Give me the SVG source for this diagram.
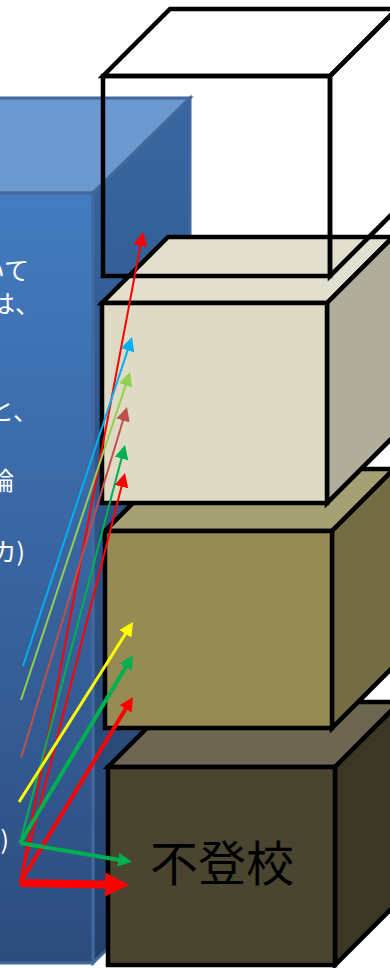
<svg xmlns="http://www.w3.org/2000/svg" width="390" height="968" viewBox="0 0 390 968">
<defs>
<linearGradient id="gFront" x1="0" y1="193" x2="0" y2="963" gradientUnits="userSpaceOnUse">
<stop offset="0" stop-color="#437cc0"/><stop offset="1" stop-color="#2d4c7e"/>
</linearGradient>
<linearGradient id="gRight" x1="0" y1="98" x2="0" y2="963" gradientUnits="userSpaceOnUse">
<stop offset="0" stop-color="#3867a2"/><stop offset="1" stop-color="#24416b"/>
</linearGradient>
<marker id="mRed" markerUnits="userSpaceOnUse" viewBox="0 0 14 14" markerWidth="14" markerHeight="14" refX="6" refY="7" orient="auto"><path d="M0,0 L14,7 L0,14 z" fill="#ff0000"/></marker>
<marker id="mCyan" markerUnits="userSpaceOnUse" viewBox="0 0 14 14" markerWidth="14" markerHeight="14" refX="6" refY="7" orient="auto"><path d="M0,0 L14,7 L0,14 z" fill="#00b0f0"/></marker>
<marker id="mLime" markerUnits="userSpaceOnUse" viewBox="0 0 14 14" markerWidth="14" markerHeight="14" refX="6" refY="7" orient="auto"><path d="M0,0 L14,7 L0,14 z" fill="#92d050"/></marker>
<marker id="mBrown" markerUnits="userSpaceOnUse" viewBox="0 0 14 14" markerWidth="14" markerHeight="14" refX="6" refY="7" orient="auto"><path d="M0,0 L14,7 L0,14 z" fill="#c0504d"/></marker>
<marker id="mGreen" markerUnits="userSpaceOnUse" viewBox="0 0 14 14" markerWidth="14" markerHeight="14" refX="6" refY="7" orient="auto"><path d="M0,0 L14,7 L0,14 z" fill="#00b050"/></marker>
<marker id="mYellow" markerUnits="userSpaceOnUse" viewBox="0 0 14 14" markerWidth="14" markerHeight="14" refX="6" refY="7" orient="auto"><path d="M0,0 L14,7 L0,14 z" fill="#ffff00"/></marker>
<marker id="mRedBig" markerUnits="userSpaceOnUse" viewBox="0 0 24 24" markerWidth="24" markerHeight="24" refX="10" refY="12" orient="auto"><path d="M0,0 L24,12 L0,24 z" fill="#ff0000"/></marker>
</defs>
<style>
.cube{stroke:#000;stroke-width:4.5;stroke-linejoin:miter}
.bedge{stroke:#41699e;stroke-width:3;stroke-linejoin:miter}
.btxt{font-family:"Noto Sans CJK JP","Noto Sans",sans-serif;font-size:25px;fill:#ffffff;text-anchor:end}
.lbl{font-family:"Noto Sans CJK JP","Noto Sans",sans-serif;font-size:48px;fill:#000;text-anchor:middle}
.ln{fill:none;stroke-linecap:butt}
</style>

<g id="blue-box">
<polygon class="bedge" points="-10,98 190,98 93,193 -10,193" fill="#6b98cf"/>
<polygon class="bedge" points="93,193 190,98 190,868 93,963" fill="url(#gRight)"/>
<rect class="bedge" x="-10" y="193" width="103" height="770" fill="url(#gFront)"/>
<text class="btxt" x="29" y="280">いて</text>
<text class="btxt" x="40" y="313">は、</text>
<text class="btxt" x="38" y="420">と、</text>
<text class="btxt" x="14" y="490">論</text>
<text class="btxt" x="25" y="561">カ)</text>
<text class="btxt" x="9" y="849">)</text>
</g>

<g id="cube-dark">
<polygon class="cube" points="108,767 173,702 400,702 335,767" fill="#6d6651"/>
<polygon class="cube" points="335,767 400,702 400,900 335,965" fill="#3b3625"/>
<rect class="cube" x="108" y="767" width="227" height="198" fill="#4a4530"/>
<text class="lbl" x="222" y="881">不登校</text>
</g>

<g id="cube-olive">
<polygon class="cube" points="105,531 167,469 394,469 332,531" fill="#a6a075"/>
<polygon class="cube" points="332,531 394,469 394,666 332,728" fill="#736c44"/>
<rect class="cube" x="105" y="531" width="227" height="197" fill="#958b53"/>
</g>

<g id="cube-beige">
<polygon class="cube" points="102,303 168,237 393,237 327,303" fill="#e2dfcf"/>
<polygon class="cube" points="327,303 393,237 393,437 327,503" fill="#b0ad9a"/>
<rect class="cube" x="102" y="303" width="225" height="200" fill="#dedac4"/>
</g>

<g id="cube-white" fill="none">
<polygon class="cube" points="103,76 170,9 397,9 330,76"/>
<polygon class="cube" points="330,76 397,9 397,209 330,276"/>
<rect class="cube" x="103" y="76" width="227" height="200"/>
</g>

<g id="connectors">
<line class="ln" x1="20" y1="883" x2="141.5" y2="239.9" stroke="#ff0000" stroke-width="2" marker-end="url(#mRed)"/>
<line class="ln" x1="23" y1="666" x2="129.5" y2="344.6" stroke="#00b0f0" stroke-width="2" marker-end="url(#mCyan)"/>
<line class="ln" x1="21" y1="700" x2="127.5" y2="379.6" stroke="#92d050" stroke-width="2" marker-end="url(#mLime)"/>
<line class="ln" x1="21" y1="758" x2="124.7" y2="414.7" stroke="#c0504d" stroke-width="2" marker-end="url(#mBrown)"/>
<line class="ln" x1="20" y1="843" x2="123" y2="452.7" stroke="#00b050" stroke-width="2" marker-end="url(#mGreen)"/>
<line class="ln" x1="20" y1="883" x2="123" y2="480.8" stroke="#ff0000" stroke-width="2" marker-end="url(#mRed)"/>
<line class="ln" x1="19" y1="802" x2="128.7" y2="628.8" stroke="#ffff00" stroke-width="3" marker-end="url(#mYellow)"/>
<line class="ln" x1="20" y1="843" x2="128.9" y2="661.9" stroke="#00b050" stroke-width="4" marker-end="url(#mGreen)"/>
<line class="ln" x1="20" y1="883" x2="128.8" y2="703.8" stroke="#ff0000" stroke-width="4" marker-end="url(#mRed)"/>
<line class="ln" x1="20" y1="843" x2="124.1" y2="860.7" stroke="#00b050" stroke-width="4" marker-end="url(#mGreen)"/>
<line class="ln" x1="20" y1="883" x2="115" y2="884.7" stroke="#ff0000" stroke-width="8" marker-end="url(#mRedBig)"/>
</g>
</svg>
